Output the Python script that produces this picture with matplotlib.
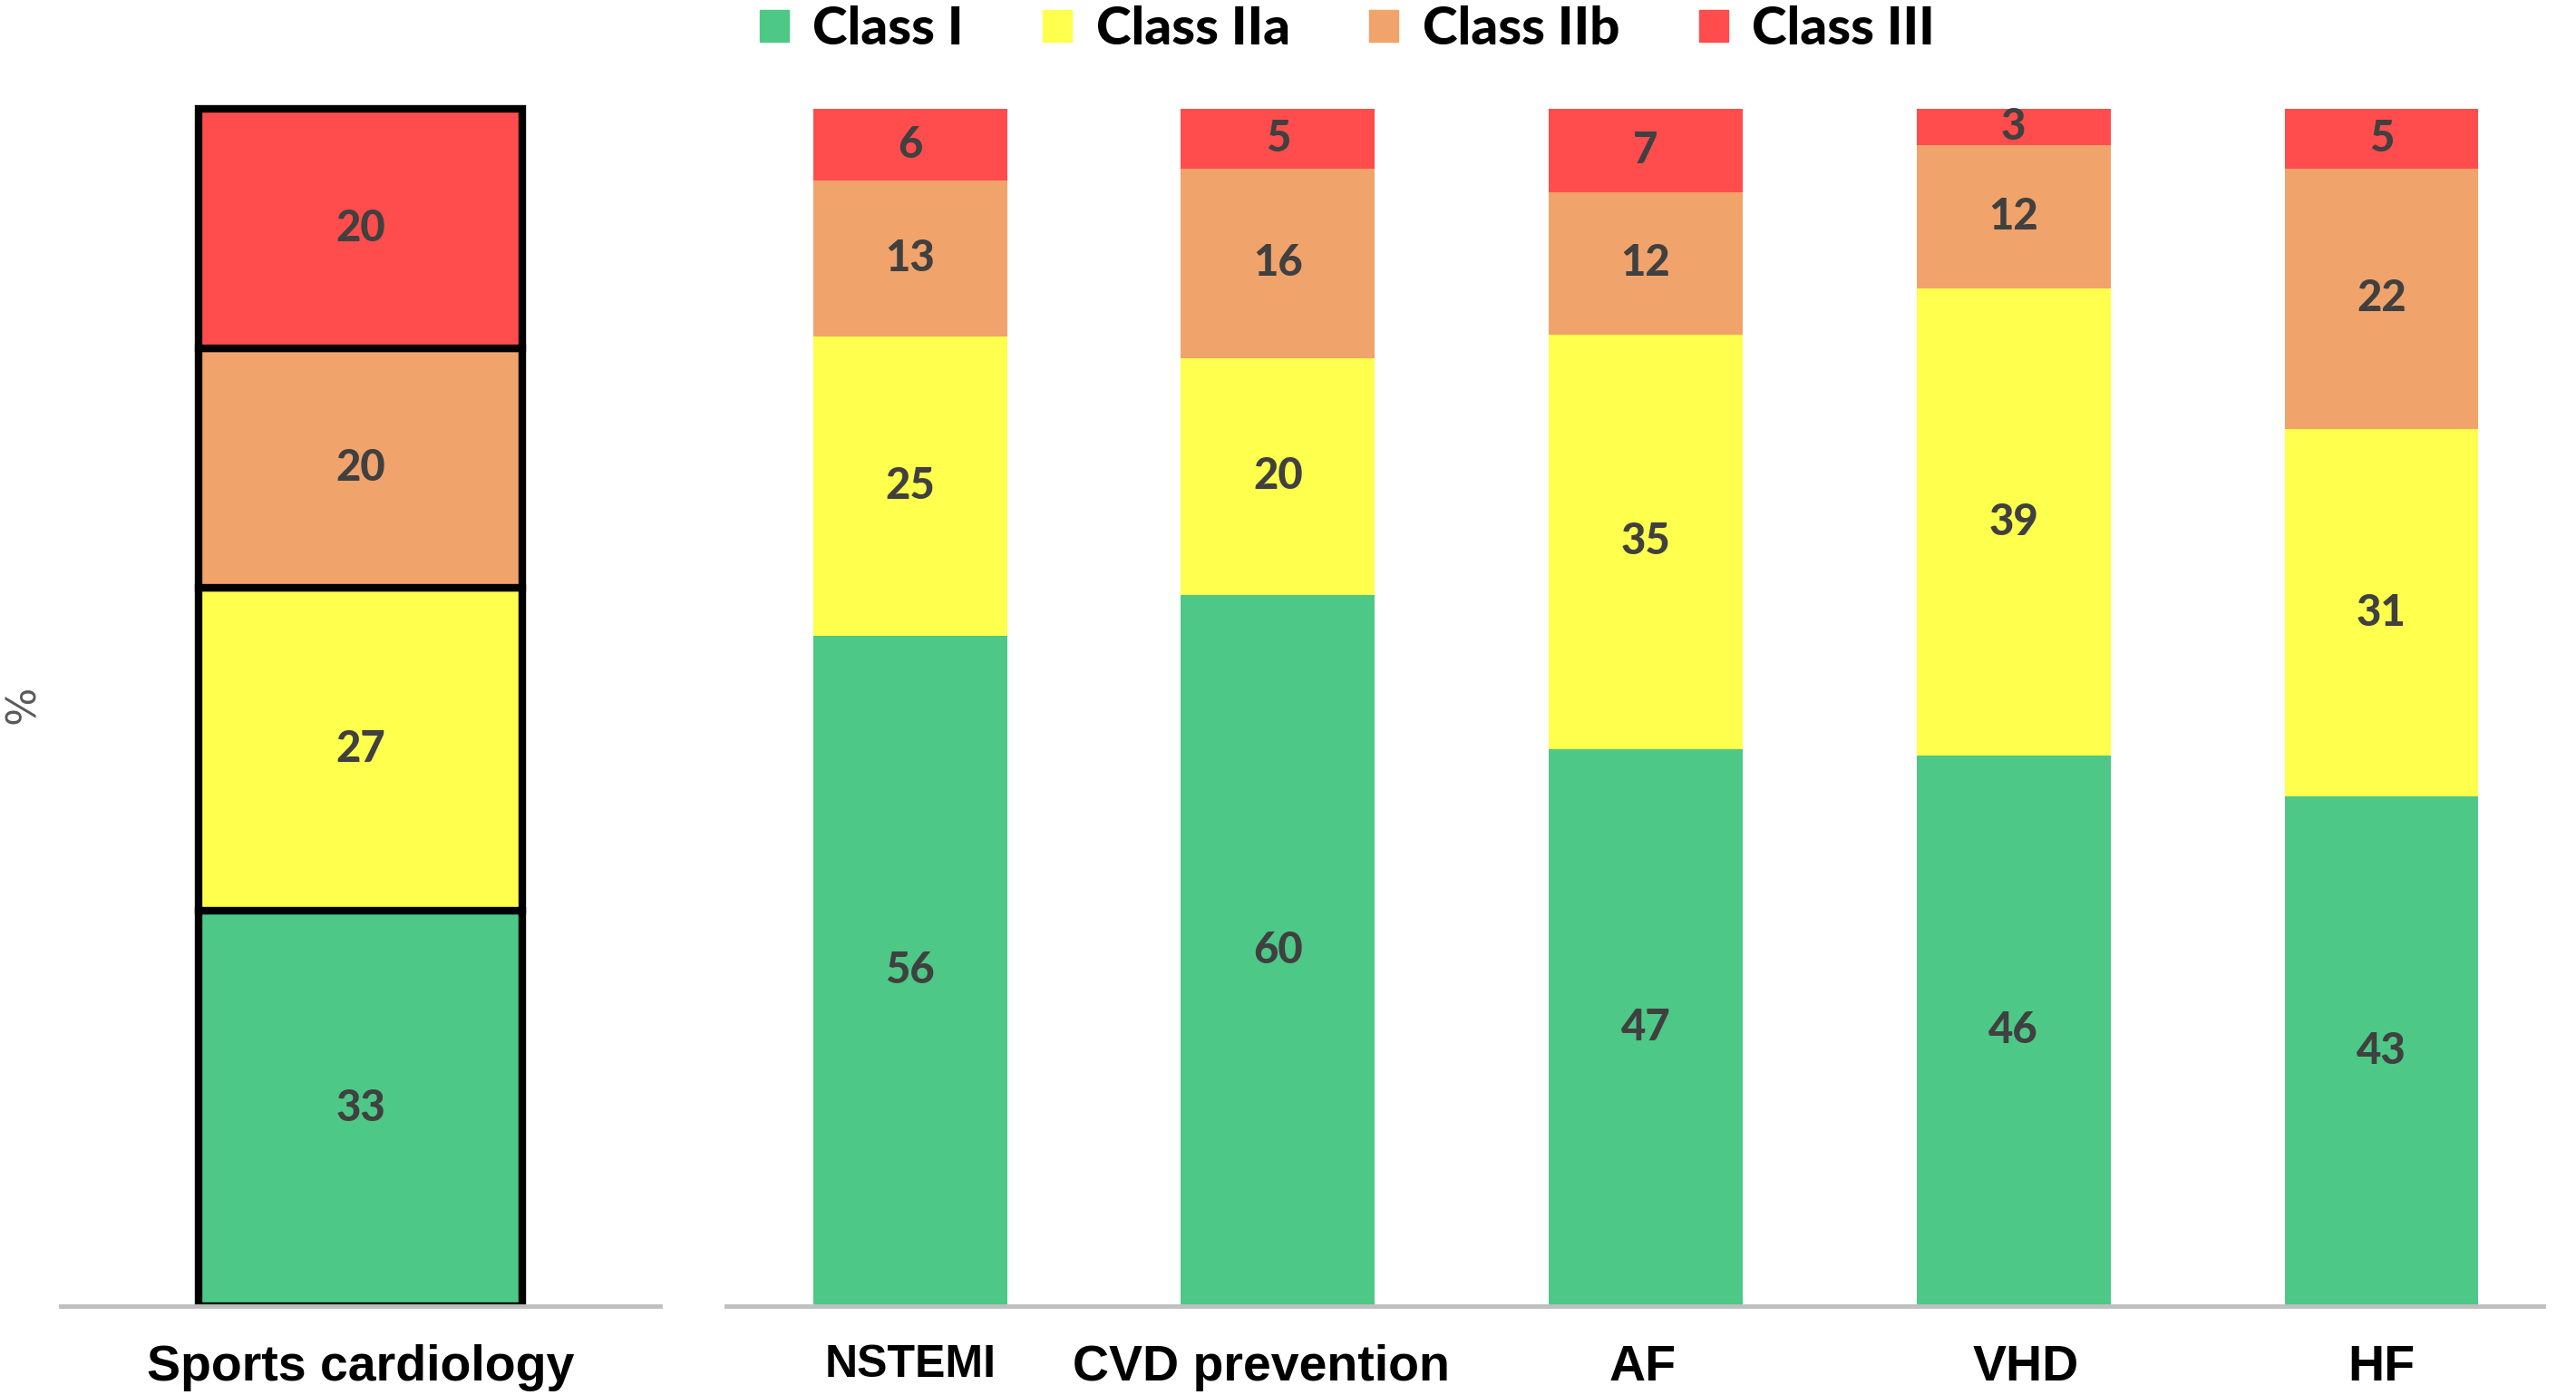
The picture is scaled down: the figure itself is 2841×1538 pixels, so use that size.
import matplotlib.pyplot as plt
import matplotlib.transforms as mtransforms
from matplotlib.patches import Patch

# data
classes = ['Class I', 'Class IIa', 'Class IIb', 'Class III']
colors = ['#4DC886', '#FFFF4D', '#F0A36A', '#FF4C4C']

sports_label = ['Sports cardiology']
sports_vals = [[33], [27], [20], [20]]

guide_labels = ['NSTEMI', 'CVD prevention', 'AF', 'VHD', 'HF']
class_i = [56, 60, 47, 46, 43]
class_iia = [25, 20, 35, 39, 31]
class_iib = [13, 16, 12, 12, 22]
class_iii = [6, 5, 7, 3, 5]
guide_vals = [class_i, class_iia, class_iib, class_iii]

num_font = 'Lato'
tick_font = ['Liberation Sans', 'DejaVu Sans']
num_color = '#404040'

fig = plt.figure(figsize=(28.41, 15.38), dpi=100)
ax1 = fig.add_axes([0.0236, 0.0637, 0.2328, 0.8667])
ax2 = fig.add_axes([0.2819, 0.0637, 0.7054, 0.8667])


def stack(ax, labels, vals, width, edge):
    # 100% stacked: each bar scaled to its own total
    x = list(range(len(labels)))
    totals = [sum(col) for col in zip(*vals)]
    bottom = [0] * len(labels)
    for v, c in zip(vals, colors):
        h = [a / t * 100 for a, t in zip(v, totals)]
        bars = ax.bar(x, h, width, bottom=bottom, color=c,
                      edgecolor='black' if edge else c,
                      linewidth=6 if edge else 0)
        for b, val, hh, bt in zip(bars, v, h, bottom):
            ax.text(b.get_x() + b.get_width() / 2, bt + hh / 2, str(val),
                    ha='center', va='center', fontsize=34, fontweight='black',
                    color=num_color, family=num_font)
        bottom = [a + b for a, b in zip(bottom, h)]
    ax.set_xticks(x)
    ax.set_xticklabels(labels, fontsize=40, fontweight='bold', family=tick_font)
    ax.set_ylim(0, 101)
    ax.set_yticks([])
    for s in ['top', 'right', 'left']:
        ax.spines[s].set_visible(False)
    ax.spines['bottom'].set_color('#BFBFBF')
    ax.spines['bottom'].set_linewidth(3.5)
    ax.tick_params(axis='x', length=0, pad=30)


stack(ax1, sports_label, sports_vals, 1.08, True)
ax1.set_xlim(-1, 1)

stack(ax2, guide_labels, guide_vals, 0.527, False)
ax2.set_xlim(-0.5, 4.44)

# small label nudges seen in the reference
ticklabels = ax2.get_xticklabels()
ticklabels[0].set_fontsize(36)
shifts = [0, -0.18, -0.03, 0.14, 0]
for lab, dx in zip(ticklabels, shifts):
    lab.set_transform(lab.get_transform() +
                      mtransforms.ScaledTranslation(dx, 0, fig.dpi_scale_trans))

fig.text(0.009, 0.495, '%', rotation=90, fontsize=32, color='#595959',
         ha='center', va='center')

handles = [Patch(facecolor=c, edgecolor=c) for c in colors]
fig.legend(handles, classes, loc='center', bbox_to_anchor=(0.523, 0.979), ncol=4,
           frameon=False, handlelength=0.55, handleheight=0.55,
           handletextpad=0.45, columnspacing=1.5,
           prop={'family': num_font, 'weight': 'black', 'size': 42})

fig.savefig('out.png', dpi=100, facecolor='white')
